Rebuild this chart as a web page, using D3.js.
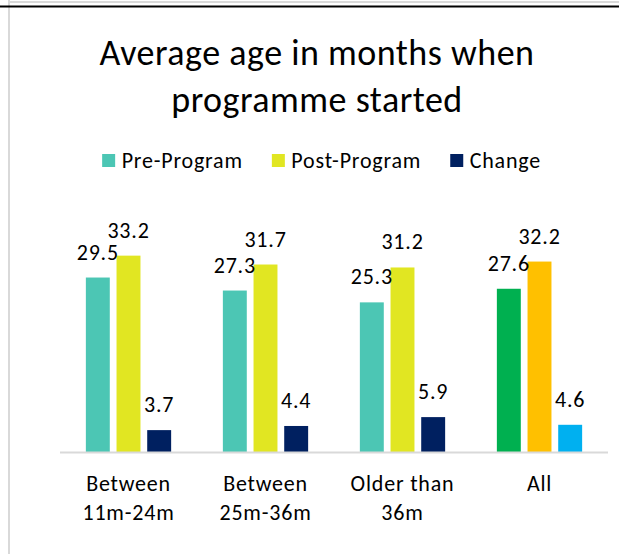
<!DOCTYPE html>
<html>
<head>
<meta charset="utf-8">
<script src="https://cdn.jsdelivr.net/npm/d3@7"></script>
<style>
  html, body { margin: 0; padding: 0; background: #fff; }
  svg { display: block; font-family: Calibri, Carlito, Lato, sans-serif; }
</style>
</head>
<body>
<div id="chart"></div>
<script>
// --- DATA ---
const categories = ["Between 11m-24m", "Between 25m-36m", "Older than 36m", "All"];
const categoryLines = [["Between", "11m-24m"], ["Between", "25m-36m"], ["Older than", "36m"], ["All"]];
const seriesNames = ["Pre-Program", "Post-Program", "Change"];
const preProgram = [29.5, 27.3, 25.3, 27.6];
const postProgram = [33.2, 31.7, 31.2, 32.2];
const change = [3.7, 4.4, 5.9, 4.6];
const titleLines = ["Average age in months when", "programme started"];

// --- CONFIG ---
const width = 619, height = 554;
const seriesColors = ["#4CC6B4", "#E1E622", "#002060"];
const allColors = ["#00B050", "#FFC000", "#00B0F0"]; // "All" group is coloured differently
const plot = { left: 60, right: 608, base: 452, top: 245 };
const labelFont = { size: "22px", spacing: "0.8px" };

const svg = d3.select("#chart").append("svg")
    .attr("width", width)
    .attr("height", height);

// frame lines (outer chart border + black rule across the top)
svg.append("line").attr("x1", 9).attr("x2", 9).attr("y1", 0).attr("y2", height)
    .attr("stroke", "#d9d9d9").attr("stroke-width", 2);
svg.append("line").attr("x1", 8).attr("x2", width).attr("y1", 2).attr("y2", 2)
    .attr("stroke", "#d9d9d9").attr("stroke-width", 2);
svg.append("line").attr("x1", 0).attr("x2", width).attr("y1", 6.5).attr("y2", 6.5)
    .attr("stroke", "#000").attr("stroke-width", 2);

// --- TITLE ---
const title = svg.append("text")
    .attr("text-anchor", "middle")
    .attr("fill", "#000")
    .style("font-size", "36px")
    .style("letter-spacing", "0.5px");
titleLines.forEach((t, i) => {
    title.append("tspan").attr("x", 317).attr("y", 65 + i * 47).text(t);
});

// --- SCALES ---
const x0 = d3.scaleBand().domain(categories).range([plot.left, plot.right]);
const x1 = d3.scaleBand().domain(seriesNames).range([0, x0.bandwidth()])
    .paddingInner(0.22).paddingOuter(0.843);
const y = d3.scaleLinear().domain([0, 35]).range([plot.base, plot.top]);

const values = [preProgram, postProgram, change];
const rows = [];
categories.forEach((c, ci) => {
    seriesNames.forEach((s, si) => {
        rows.push({ cat: c, ci, series: s, si, value: values[si][ci] });
    });
});

// --- BARS ---
svg.append("g").selectAll("rect")
    .data(rows)
    .join("rect")
    .attr("x", d => x0(d.cat) + x1(d.series))
    .attr("y", d => y(d.value))
    .attr("width", x1.bandwidth())
    .attr("height", d => y(0) - y(d.value))
    .attr("fill", d => d.cat === "All" ? allColors[d.si] : seriesColors[d.si]);

// axis baseline
svg.append("line")
    .attr("x1", plot.left).attr("x2", plot.right)
    .attr("y1", plot.base + 0.5).attr("y2", plot.base + 0.5)
    .attr("stroke", "#d9d9d9").attr("stroke-width", 2);

// --- DATA LABELS ---
svg.append("g").selectAll("text")
    .data(rows)
    .join("text")
    .attr("x", d => x0(d.cat) + x1(d.series) + x1.bandwidth() / 2)
    .attr("y", d => y(d.value) - 18)
    .attr("text-anchor", "middle")
    .attr("fill", "#000")
    .style("font-size", labelFont.size)
    .style("letter-spacing", labelFont.spacing)
    .text(d => d3.format(".1f")(d.value));

// --- CATEGORY LABELS ---
const xLabels = svg.append("g").selectAll("text")
    .data(categories)
    .join("text")
    .attr("text-anchor", "middle")
    .attr("fill", "#000")
    .style("font-size", labelFont.size)
    .style("letter-spacing", labelFont.spacing);
xLabels.each(function (d, i) {
    const cx = x0(d) + x0.bandwidth() / 2;
    categoryLines[i].forEach((line, li) => {
        d3.select(this).append("tspan").attr("x", cx).attr("y", 491 + li * 29).text(line);
    });
});

// --- LEGEND ---
const legend = svg.append("g");
const items = legend.selectAll("g").data(seriesNames).join("g");
items.append("rect").attr("width", 13).attr("height", 13).attr("y", 154)
    .attr("fill", (d, i) => seriesColors[i]);
items.append("text").attr("y", 168).attr("fill", "#000")
    .style("font-size", labelFont.size)
    .style("letter-spacing", labelFont.spacing)
    .text(d => d);
let lx = 0;
const offsets = [];
items.each(function () {
    const w = d3.select(this).select("text").node().getComputedTextLength();
    offsets.push({ x: lx, w });
    lx += 13 + 6.5 + w + 29;
});
const totalW = lx - 29;
const startX = 321.6 - totalW / 2;
items.each(function (d, i) {
    const g = d3.select(this);
    g.select("rect").attr("x", startX + offsets[i].x);
    g.select("text").attr("x", startX + offsets[i].x + 19.5);
});
</script>
</body>
</html>
